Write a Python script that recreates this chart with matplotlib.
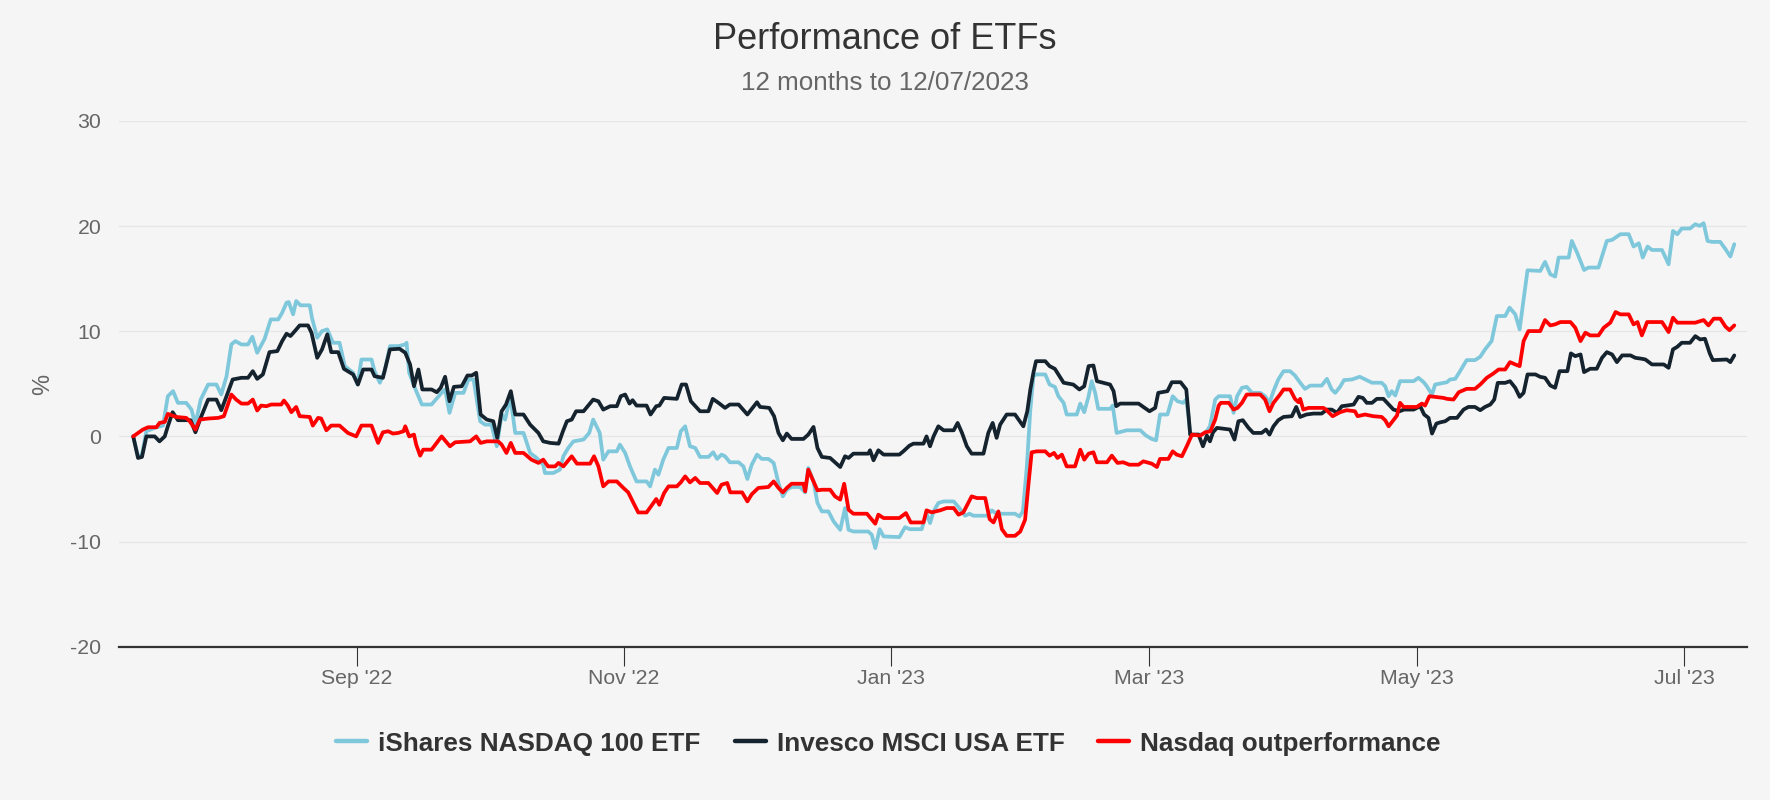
import matplotlib
matplotlib.use("Agg")
import matplotlib.pyplot as plt
import matplotlib.dates as mdates
from matplotlib.lines import Line2D
from datetime import datetime

plt.rcParams["font.family"] = ["Liberation Sans", "DejaVu Sans"]
plt.rcParams["axes.unicode_minus"] = False

title = "Performance of ETFs"
subtitle = "12 months to 12/07/2023"
y_label = "%"
series_names = ["iShares NASDAQ 100 ETF", "Invesco MSCI USA ETF", "Nasdaq outperformance"]
start_date = datetime(2022, 7, 12)

# day offsets (calendar days from start_date) and % values
ishares_day = [0, 1.1, 2.0, 3.0, 4.9, 6.8, 7.9, 9.1, 10.2, 12.1, 13.3, 14.2, 15.4, 17.1, 19.0, 20.1, 21.3, 22.4, 23.3, 24.7,
               26.2, 27.2, 28.3, 30.0, 31.4, 33.1, 34.0, 35.0, 35.5, 36.5, 37.2, 38.2, 40.3, 40.8, 42.0, 43.1, 44.3, 45.6, 47.1, 48.3,
               50.2, 51.2, 52.1, 54.4, 55.1, 56.3, 57.4, 58.6, 60.5, 62.1, 62.4, 63.0, 64.3, 65.9, 68.1, 70.4, 71.2, 72.2, 73.5, 75.4,
               76.5, 77.7, 79.2, 80.3, 81.8, 82.6, 83.0, 84.1, 84.9, 86.1, 87.2, 89.1, 90.6, 92.1, 93.6, 94.0, 95.9, 97.4, 98.2, 99.3,
               100.5, 102.8, 104.1, 105.0, 106.5, 107.3, 108.5, 110.4, 111.1, 112.3, 113.4, 114.9, 117.2, 118.0, 119.1, 119.9, 121.0, 122.2, 124.1, 125.0,
               126.0, 127.1, 128.3, 129.4, 131.3, 132.4, 133.3, 134.3, 135.1, 136.2, 138.2, 139.3, 140.2, 141.2, 142.4, 143.5, 145.0, 146.2, 147.3, 148.3,
               149.2, 150.3, 152.2, 153.4, 154.1, 155.3, 156.2, 157.2, 158.7, 159.9, 161.4, 162.5, 163.3, 164.4, 167.8, 168.6, 169.4, 170.4, 171.3, 174.9,
               176.2, 177.3, 180.0, 181.1, 181.9, 182.7, 183.8, 185.0, 187.3, 188.3, 189.9, 190.9, 191.8, 194.9, 196.0, 197.1, 201.3, 202.3, 203.1, 204.0,
               204.8, 205.5, 206.1, 208.2, 209.2, 210.4, 211.2, 212.4, 213.1, 215.4, 216.2, 217.1, 218.1, 218.8, 219.6, 220.3, 223.0, 223.6, 224.5, 226.8,
               229.9, 231.2, 232.5, 233.5, 234.4, 236.1, 237.3, 238.4, 239.7, 240.4, 240.9, 241.3, 243.6, 244.8, 245.8, 247.0, 247.8, 250.4, 251.2, 252.0,
               253.1, 254.2, 255.4, 257.3, 258.4, 259.4, 260.3, 261.4, 262.6, 264.1, 265.2, 266.4, 267.5, 268.7, 271.3, 272.5, 273.6, 274.4, 275.5, 276.4,
               278.2, 280.0, 281.6, 282.8, 285.0, 285.8, 286.6, 287.3, 288.1, 289.2, 292.3, 293.4, 294.6, 295.3, 296.5, 297.2, 298.4, 299.9, 300.6, 301.8,
               302.9, 304.4, 306.3, 307.5, 308.6, 310.1, 311.3, 313.2, 314.2, 315.5, 316.5, 317.4, 318.3, 321.2, 322.3, 323.5, 324.6, 325.4, 327.7, 328.4,
               329.6, 331.2, 332.2, 334.5, 335.7, 336.4, 337.6, 339.5, 341.4, 342.5, 343.7, 344.6, 345.7, 346.7, 349.0, 350.5, 351.5, 352.5, 353.5, 355.4,
               356.6, 357.6, 358.5, 359.4, 360.4, 362.3, 363.5, 364.6, 365.5]
ishares_pct = [0, -1.89, -1.73, 0.49, 0.81, 1.03, 3.82, 4.3, 3.19, 3.19, 2.55, 1.12, 3.5, 4.93, 4.93, 3.98, 5.72, 8.74, 9.06, 8.74,
               8.74, 9.47, 7.95, 9.28, 11.12, 11.12, 11.76, 12.71, 12.77, 11.6, 12.87, 12.46, 12.46, 11.28, 9.38, 10.01, 10.17, 8.9, 8.9, 6.68,
               6.05, 4.93, 7.31, 7.31, 6.2, 5.1, 6.2, 8.58, 8.58, 8.74, 8.9, 6.05, 4.62, 3.03, 3.03, 4.14, 4.46, 2.24, 4.14, 4.14,
               5.41, 5.41, 1.44, 1.12, 1.12, -0.3, -0.94, 2.08, 1.6, 3.82, 0.33, 0.33, -1.57, -2.05, -2.69, -3.48, -3.48, -3.16, -1.89, -1.1,
               -0.47, -0.3, 0.33, 1.6, 0.33, -2.21, -1.42, -1.42, -0.78, -1.57, -2.85, -4.28, -4.28, -4.75, -3.16, -3.64, -2.21, -1.1, -1.1, 0.49,
               0.96, -0.94, -1.1, -1.95, -1.95, -1.51, -2.14, -1.73, -1.89, -2.46, -2.46, -2.85, -4.05, -2.69, -1.73, -2.14, -2.14, -2.52, -4.43, -5.7,
               -5.07, -4.81, -4.81, -5.32, -3.0, -4.28, -6.33, -7.13, -7.13, -8.09, -8.88, -6.81, -8.88, -9.04, -9.04, -9.35, -10.62, -8.82, -9.51, -9.57,
               -8.63, -8.82, -8.82, -7.29, -8.24, -7.13, -6.33, -6.18, -6.18, -6.66, -7.54, -7.35, -7.54, -7.54, -7.03, -7.35, -7.35, -7.61, -7.13, -2.85,
               2.55, 5.72, 5.89, 5.89, 4.93, 4.71, 3.82, 3.19, 2.08, 2.08, 3.12, 2.3, 3.82, 5.25, 4.14, 2.62, 2.62, 2.93, 0.33, 0.58,
               0.58, 0.08, -0.24, -0.37, 2.08, 2.08, 3.82, 3.34, 3.19, 3.5, 1.92, 0.17, 0.17, 0.33, 0.96, 3.5, 3.82, 3.82, 2.24, 3.82,
               4.62, 4.71, 4.14, 4.14, 3.82, 3.19, 4.3, 5.41, 6.2, 6.2, 5.79, 5.1, 4.52, 4.83, 4.83, 5.47, 4.46, 4.14, 4.71, 5.35,
               5.41, 5.67, 5.35, 5.1, 5.1, 4.77, 3.82, 4.3, 3.89, 5.25, 5.25, 5.57, 5.15, 4.77, 3.98, 4.93, 5.03, 5.15, 5.41, 5.47,
               6.2, 7.25, 7.25, 7.57, 8.27, 9.06, 11.44, 11.44, 12.24, 11.6, 10.17, 13.03, 15.79, 15.73, 16.59, 15.41, 15.19, 17.0, 17.0, 18.58,
               17.48, 15.82, 16.05, 16.05, 17.63, 18.58, 18.68, 19.22, 19.22, 18.05, 18.36, 17.0, 18.05, 17.72, 17.72, 16.36, 19.53, 19.22, 19.76, 19.76,
               20.17, 20.01, 20.27, 18.58, 18.49, 18.49, 17.79, 17.1, 18.27]

invesco_day = [0, 1.1, 2.0, 3.0, 4.9, 6.0, 7.2, 7.9, 9.0, 10.2, 13.1, 14.2, 15.4, 17.1, 19.0, 20.1, 21.3, 22.7, 24.7, 26.2,
               27.3, 28.3, 29.6, 31.1, 32.9, 34.0, 35.0, 35.9, 36.9, 38.0, 39.9, 40.7, 42.0, 43.1, 44.3, 45.2, 46.8, 48.1, 50.2, 51.3,
               52.5, 54.4, 55.1, 57.0, 58.6, 60.8, 62.1, 63.2, 64.1, 65.1, 66.0, 68.1, 69.3, 70.2, 71.2, 72.2, 73.2, 75.0, 76.3, 77.3,
               78.3, 79.3, 80.7, 82.2, 83.1, 84.1, 85.1, 86.2, 87.2, 89.1, 90.6, 92.5, 93.6, 95.2, 97.1, 98.1, 99.0, 100.1, 101.1, 102.8,
               105.0, 106.2, 107.3, 108.1, 108.9, 110.4, 111.3, 112.3, 113.3, 114.0, 114.9, 117.2, 118.1, 119.4, 120.1, 121.2, 124.1, 125.2, 126.2, 127.3,
               129.4, 131.3, 132.3, 133.6, 135.1, 136.2, 138.2, 140.2, 142.4, 143.1, 145.2, 146.3, 147.3, 148.3, 149.2, 150.3, 153.0, 154.1, 155.3, 156.2,
               157.2, 159.1, 160.2, 161.4, 162.5, 163.3, 164.4, 167.8, 168.2, 169.0, 170.1, 171.3, 174.9, 175.8, 177.2, 178.1, 180.4, 181.1, 181.9, 182.7,
               183.8, 185.0, 187.3, 188.2, 189.2, 190.3, 191.4, 194.1, 195.2, 196.2, 197.1, 197.9, 199.4, 201.3, 203.2, 204.1, 204.8, 205.5, 206.1, 208.2,
               209.2, 210.4, 211.2, 212.4, 214.6, 216.0, 217.1, 218.1, 219.2, 220.0, 223.0, 223.8, 224.4, 225.3, 229.5, 230.6, 232.0, 233.3, 234.0, 236.1,
               237.1, 239.1, 240.4, 241.3, 243.2, 244.2, 245.1, 245.8, 246.5, 247.4, 249.3, 250.4, 251.4, 252.3, 253.3, 254.6, 255.7, 257.6, 258.6, 259.4,
               260.3, 261.4, 262.6, 264.5, 265.5, 266.4, 267.8, 269.4, 271.3, 272.5, 273.6, 274.8, 275.9, 277.0, 278.6, 279.7, 280.7, 281.6, 282.8, 283.9,
               285.4, 286.6, 287.7, 289.1, 290.1, 292.3, 293.8, 294.7, 295.7, 296.5, 297.5, 298.4, 299.5, 300.6, 302.2, 303.7, 304.8, 306.3, 307.5, 308.6,
               309.8, 310.7, 311.5, 313.2, 314.3, 315.5, 316.5, 317.4, 318.3, 320.1, 321.2, 322.3, 323.5, 324.6, 325.6, 327.4, 328.2, 329.2, 330.4, 331.2,
               332.6, 334.1, 335.3, 336.4, 337.6, 338.7, 339.9, 341.8, 342.9, 344.4, 345.2, 346.7, 349.4, 350.5, 351.5, 352.5, 353.5, 355.4, 356.6, 357.7,
               358.8, 359.9, 360.6, 363.8, 364.6, 365.5]
invesco_pct = [0, -2.05, -1.95, 0, 0, -0.47, 0, 0.96, 2.3, 1.54, 1.54, 0.39, 1.76, 3.5, 3.5, 2.49, 3.82, 5.41, 5.57, 5.57,
               6.2, 5.47, 5.89, 8.01, 8.11, 9.06, 9.76, 9.54, 10.01, 10.55, 10.55, 9.85, 7.47, 8.27, 9.7, 8.01, 8.01, 6.42, 5.89, 4.93,
               6.36, 6.36, 5.72, 5.57, 8.27, 8.33, 7.95, 6.84, 4.77, 6.36, 4.46, 4.46, 4.2, 4.62, 5.67, 3.34, 4.71, 4.77, 5.79, 5.79,
               6.05, 2.08, 1.6, 1.44, -0.14, 2.39, 3.03, 4.3, 2.08, 2.08, 1.12, 0.33, -0.47, -0.62, -0.69, 0.49, 1.44, 1.6, 2.39, 2.39,
               3.5, 3.34, 2.55, 2.71, 2.87, 2.87, 3.82, 3.98, 3.12, 3.44, 2.93, 2.93, 2.08, 2.87, 2.93, 3.66, 3.57, 4.93, 4.93, 3.34,
               2.39, 2.39, 3.57, 3.19, 2.71, 3.03, 3.03, 2.08, 3.25, 2.8, 2.71, 1.92, 0.33, -0.37, 0.27, -0.24, -0.24, 0.17, 0.9, -1.1,
               -1.95, -2.05, -2.46, -2.91, -1.89, -2.05, -1.64, -1.64, -1.32, -2.27, -1.32, -1.73, -1.73, -1.42, -0.88, -0.69, -0.69, 0, -0.94, 0,
               0.96, 0.58, 0.58, 1.28, 0.33, -0.94, -1.64, -1.64, 0.33, 1.28, -0.14, 1.12, 2.08, 2.08, 0.96, 2.39, 4.46, 6.05, 7.15, 7.15,
               6.68, 6.42, 5.89, 5.1, 4.93, 4.46, 4.77, 6.68, 6.74, 5.25, 4.93, 4.3, 2.87, 3.12, 3.12, 2.8, 2.39, 2.71, 4.14, 4.3,
               5.15, 5.15, 4.46, 0.17, 0.17, -0.94, 0.08, -0.47, 0.39, 0.81, 0.71, 0.65, -0.3, 1.44, 1.54, 0.81, 0.33, 0.33, 0.65, 0.17,
               0.96, 1.54, 1.85, 1.92, 2.8, 1.85, 2.08, 2.17, 2.17, 2.55, 2.55, 2.24, 2.87, 2.93, 3.03, 3.76, 3.66, 3.19, 3.19, 3.57,
               3.57, 3.03, 2.55, 2.39, 2.55, 2.55, 2.87, 2.08, 1.76, 0.27, 1.22, 1.34, 1.44, 1.76, 1.76, 2.55, 2.8, 2.8, 2.49, 2.8,
               3.03, 3.5, 5.09, 5.09, 5.25, 4.62, 3.76, 4.14, 5.89, 5.89, 5.66, 5.57, 4.84, 4.62, 6.2, 6.2, 7.89, 7.63, 7.79, 6.11,
               6.43, 6.43, 7.47, 8.01, 7.79, 7.06, 7.7, 7.7, 7.47, 7.38, 7.31, 6.84, 6.84, 6.52, 8.27, 8.52, 8.9, 8.9, 9.53, 9.22,
               9.28, 7.89, 7.25, 7.31, 7.06, 7.7]

outperf_day = [0, 1.1, 2.2, 3.4, 5.3, 6.0, 7.2, 7.9, 9.8, 12.1, 12.9, 14.2, 15.2, 17.1, 19.4, 20.7, 22.4, 23.5, 24.7, 26.2,
               27.3, 28.3, 29.2, 30.4, 31.5, 33.8, 34.4, 35.3, 36.1, 37.2, 38.0, 40.3, 41.0, 42.2, 42.9, 44.1, 45.2, 47.1, 49.0, 50.9,
               52.1, 54.4, 55.9, 57.0, 58.2, 59.3, 60.5, 61.7, 62.1, 63.0, 64.1, 64.6, 65.5, 66.2, 68.1, 70.4, 72.3, 73.5, 76.9, 78.3,
               79.3, 80.7, 83.3, 84.1, 85.2, 86.2, 87.2, 89.1, 90.9, 92.5, 93.6, 94.7, 96.3, 97.1, 98.2, 100.1, 101.3, 104.3, 105.2, 106.2,
               107.3, 108.5, 110.4, 111.9, 113.0, 114.2, 115.3, 117.2, 119.4, 120.1, 121.2, 122.2, 124.1, 125.0, 126.0, 127.1, 128.3, 129.4, 131.3, 133.3,
               134.3, 135.6, 136.3, 139.0, 140.2, 141.2, 142.7, 145.0, 146.2, 147.3, 148.3, 149.2, 150.3, 153.0, 153.4, 154.1, 155.3, 156.2, 157.2, 159.1,
               160.2, 161.4, 162.3, 163.3, 164.4, 167.5, 169.4, 170.1, 171.3, 174.9, 176.4, 177.5, 180.4, 181.1, 182.3, 184.2, 185.7, 187.3, 188.4, 189.5,
               190.4, 191.4, 192.6, 194.5, 195.5, 196.4, 197.5, 198.3, 199.4, 201.3, 202.5, 203.6, 204.4, 205.1, 206.3, 208.2, 209.2, 210.2, 211.0, 212.0,
               213.1, 215.0, 216.2, 217.1, 218.1, 219.2, 220.0, 222.3, 223.4, 224.7, 226.0, 227.4, 229.5, 230.6, 232.5, 233.7, 234.4, 236.3, 237.3, 238.2,
               239.4, 240.5, 241.7, 243.6, 244.7, 245.9, 247.0, 247.8, 248.3, 250.1, 251.2, 252.1, 253.1, 254.2, 257.3, 258.4, 259.4, 260.3, 261.8, 262.6,
               264.1, 265.2, 266.0, 266.4, 267.1, 268.3, 271.7, 272.3, 273.8, 275.5, 277.0, 278.9, 279.5, 281.2, 283.1, 285.0, 285.8, 286.6, 287.3, 288.5,
               289.2, 290.0, 293.0, 294.2, 294.9, 295.9, 299.1, 299.9, 301.4, 302.6, 304.4, 306.3, 307.5, 309.0, 310.5, 311.7, 313.2, 314.3, 315.5, 316.5,
               317.4, 318.5, 321.2, 322.3, 323.5, 324.6, 325.8, 328.1, 329.2, 330.4, 331.5, 332.6, 334.5, 335.7, 337.2, 338.4, 339.5, 341.4, 342.5, 343.4,
               344.4, 345.6, 349.0, 350.5, 351.5, 352.5, 356.6, 358.5, 359.6, 360.8, 362.3, 363.5, 364.4, 365.5]
outperf_pct = [0, 0.33, 0.65, 0.87, 0.87, 1.28, 1.38, 2.14, 1.85, 1.76, 1.44, 0.65, 1.6, 1.7, 1.76, 1.92, 3.98, 3.5, 3.12, 3.12,
               3.5, 2.46, 2.93, 2.87, 3.03, 3.03, 3.41, 2.93, 2.3, 2.8, 1.92, 1.85, 1.03, 1.76, 1.7, 0.58, 1.03, 1.03, 0.33, 0,
               1.03, 1.03, -0.62, 0.39, 0.49, 0.27, 0.33, 0.49, 0.96, 0, 0.17, -0.78, -1.83, -1.26, -1.26, 0, -0.94, -0.56, -0.47, 0,
               -0.62, -0.47, -0.47, -0.78, -1.57, -0.62, -1.57, -1.57, -2.21, -2.52, -2.21, -2.85, -2.85, -2.52, -2.85, -1.89, -2.59, -2.59, -1.89, -2.85,
               -4.75, -4.28, -4.28, -4.9, -5.32, -6.33, -7.23, -7.23, -5.95, -6.5, -5.38, -4.75, -4.75, -4.37, -3.8, -4.37, -3.95, -4.43, -4.43, -5.38,
               -4.59, -4.43, -5.32, -5.32, -6.18, -5.5, -4.9, -4.81, -4.28, -4.9, -5.32, -4.9, -4.5, -4.5, -5.23, -3.16, -4.28, -5.13, -5.07, -5.07,
               -5.7, -6.01, -4.5, -6.97, -7.35, -7.35, -8.3, -7.44, -7.76, -7.76, -7.29, -8.18, -8.18, -7.03, -7.22, -7.03, -6.81, -6.81, -7.44, -7.23,
               -6.5, -5.7, -5.86, -5.86, -7.86, -8.18, -7.13, -8.82, -9.45, -9.45, -9.04, -7.92, -4.43, -1.51, -1.42, -1.42, -1.83, -1.57, -2.05, -1.73,
               -2.85, -2.85, -1.26, -2.21, -1.64, -1.51, -2.46, -2.46, -1.83, -2.52, -2.46, -2.69, -2.69, -2.37, -2.59, -2.91, -2.14, -2.14, -1.42, -1.73,
               -1.89, -0.94, 0.17, 0.08, 0.39, 0.49, 1.6, 2.93, 3.19, 3.19, 2.55, 2.71, 3.19, 3.98, 3.98, 3.5, 2.39, 3.19, 3.98, 4.46,
               4.46, 3.57, 3.25, 3.57, 2.55, 2.71, 2.71, 2.55, 1.92, 2.3, 2.49, 2.39, 1.92, 2.08, 1.92, 1.85, 1.54, 0.96, 1.34, 1.98,
               3.19, 2.8, 2.8, 3.12, 2.93, 3.82, 3.66, 3.57, 3.5, 4.2, 4.52, 4.52, 4.93, 5.57, 5.98, 6.36, 6.36, 7.06, 6.84, 6.68,
               9.06, 10.01, 10.01, 11.06, 10.55, 10.65, 10.87, 10.87, 10.33, 9.06, 9.86, 9.6, 9.6, 10.33, 10.81, 11.82, 11.6, 11.6, 10.65, 10.87,
               9.6, 10.87, 10.87, 9.92, 11.28, 10.81, 10.81, 11.06, 10.55, 11.19, 11.19, 10.43, 10.1, 10.55]

y_ticks = [-20, -10, 0, 10, 20, 30]
x_tick_months = [1, 3, 5, 7, 9, 11]

colors = ["#7fc8dc", "#15232f", "#ff0000"]
bg = "#f5f5f5"

t0 = mdates.date2num(start_date)

fig = plt.figure(figsize=(17.7, 8.0), dpi=100, facecolor=bg)
ax = fig.add_axes([0.06695, 0.1915, 0.9203, 0.6575], facecolor=bg)

all_days = [ishares_day, invesco_day, outperf_day]
all_vals = [ishares_pct, invesco_pct, outperf_pct]
for i, (d, v) in enumerate(zip(all_days, all_vals)):
    ax.plot([t0 + x for x in d], v, color=colors[i], lw=2.7, label=series_names[i],
            solid_joinstyle="round", solid_capstyle="round", zorder=3 + i)

ax.set_xlim(t0 - 3.36, t0 + 368.5)
ax.set_ylim(-20, 30)
ax.set_yticks(y_ticks)
ax.set_yticklabels([str(t) for t in y_ticks])
ax.xaxis.set_major_locator(mdates.MonthLocator(bymonth=x_tick_months))
ax.xaxis.set_major_formatter(mdates.DateFormatter("%b '%y"))

ax.grid(axis="y", color="#e6e6e6", lw=1.0)
ax.set_axisbelow(True)
for s in ["top", "right", "left"]:
    ax.spines[s].set_visible(False)
ax.spines["bottom"].set_color("#333333")
ax.spines["bottom"].set_linewidth(1.6)
ax.spines["bottom"].set_zorder(10)

ax.tick_params(axis="y", length=0, pad=12.5, labelsize=15.3, labelcolor="#666666")
ax.tick_params(axis="x", length=13.7, width=0.8, color="#333333", pad=2,
               labelsize=15.3, labelcolor="#666666")

fig.text(0.0245, 0.52, y_label, rotation=90, ha="center", va="center",
         fontsize=17, color="#666666")

fig.text(0.5, 0.9385, title, ha="center", va="baseline", fontsize=26, color="#333333")
fig.text(0.5, 0.8870, subtitle, ha="center", va="baseline", fontsize=18.7, color="#666666")

handles = [Line2D([0], [0], color=c, lw=3.2, solid_capstyle="round") for c in colors]
leg = fig.legend(handles, series_names, loc="center", bbox_to_anchor=(0.502, 0.0705), ncol=3,
                 frameon=False, handlelength=1.19, handletextpad=0.42, columnspacing=1.30,
                 prop={"weight": "bold", "size": 18.8})
for t in leg.get_texts():
    t.set_color("#333333")

fig.savefig("out.png", dpi=100, facecolor=bg)
